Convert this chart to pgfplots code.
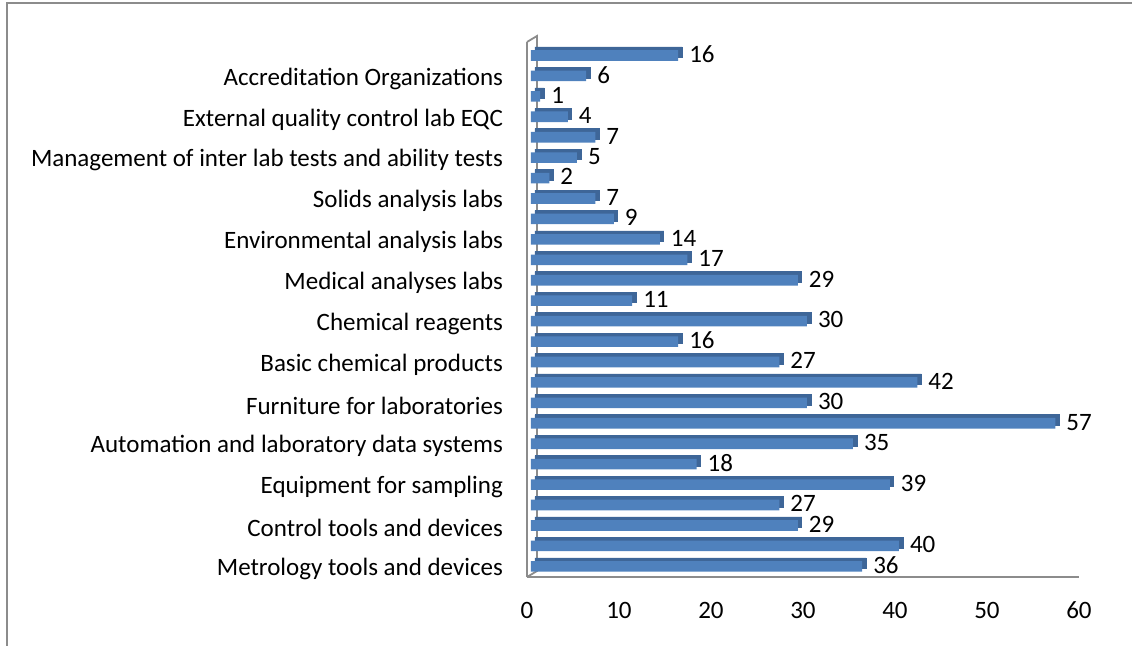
\documentclass[border=0pt]{standalone}
\usepackage{fontspec}
\setmainfont{Carlito}
\usepackage{pgfplots}
\pgfplotsset{compat=1.18}
\definecolor{barblue}{HTML}{4F81BD}
\definecolor{bartop}{HTML}{3E6698}
\definecolor{bardark}{HTML}{385D8A}
\definecolor{wallgray}{HTML}{8C8C8C}
\pgfplotstableread{
val idx
36 0
40 1
29 2
27 3
39 4
18 5
35 6
57 7
30 8
42 9
27 10
16 11
30 12
11 13
29 14
17 15
14 16
9 17
7 18
2 19
5 20
7 21
4 22
1 23
6 24
16 25
}\datatable
\begin{document}
\begin{tikzpicture}
\useasboundingbox (0,0) rectangle (566pt,322.5pt);
\draw[wallgray, line width=1.2pt] (3.5pt,-2pt) -- (3.5pt,321pt) -- (570pt,321pt);
\begin{axis}[
 at={(263.5pt,34pt)}, anchor=south west,
 scale only axis, width=276pt, height=267.5pt,
 xmin=0, xmax=60, ymin=-0.59, ymax=25.59,
 clip=false,
 xbar, bar width=5.3pt, bar shift=0pt,
 xtick={0,10,...,60},
 ytick={0,2,...,24},
 yticklabels={Metrology tools and devices, Control tools and devices, Equipment for sampling, Automation and laboratory data systems, Furniture for laboratories, Basic chemical products, Chemical reagents, Medical analyses labs, Environmental analysis labs, Solids analysis labs, Management of inter lab tests and ability tests, External quality control lab EQC, Accreditation Organizations},
 major tick length=0,
 axis x line*=bottom, axis y line*=left,
 axis line style={wallgray, line width=0.9pt, -},
 /pgf/number format/assume math mode=true,
 tick label style={font=\fontsize{12.5}{14}\selectfont, text=black},
 xticklabel style={yshift=-9pt},
 yticklabel style={xshift=-8.5pt, yshift=-2pt},
]
\draw[wallgray, line width=0.9pt] (rel axis cs:0,0) -- ++(5pt,3pt) -- ([xshift=5pt,yshift=3pt]rel axis cs:0,1) -- (rel axis cs:0,1);
\addplot[fill=bartop, draw=bartop, line width=0.3pt, xshift=4pt, yshift=0.9pt] table[x=val, y=idx] {\datatable};
\addplot[fill=barblue, draw=none, xshift=2pt, yshift=-0.7pt,
 nodes near coords,
 every node near coord/.append style={anchor=west, xshift=2pt, yshift=0.6pt, font=\fontsize{12.5}{14}\selectfont, text=black}] table[x=val, y=idx] {\datatable};
\end{axis}
\end{tikzpicture}
\end{document}
